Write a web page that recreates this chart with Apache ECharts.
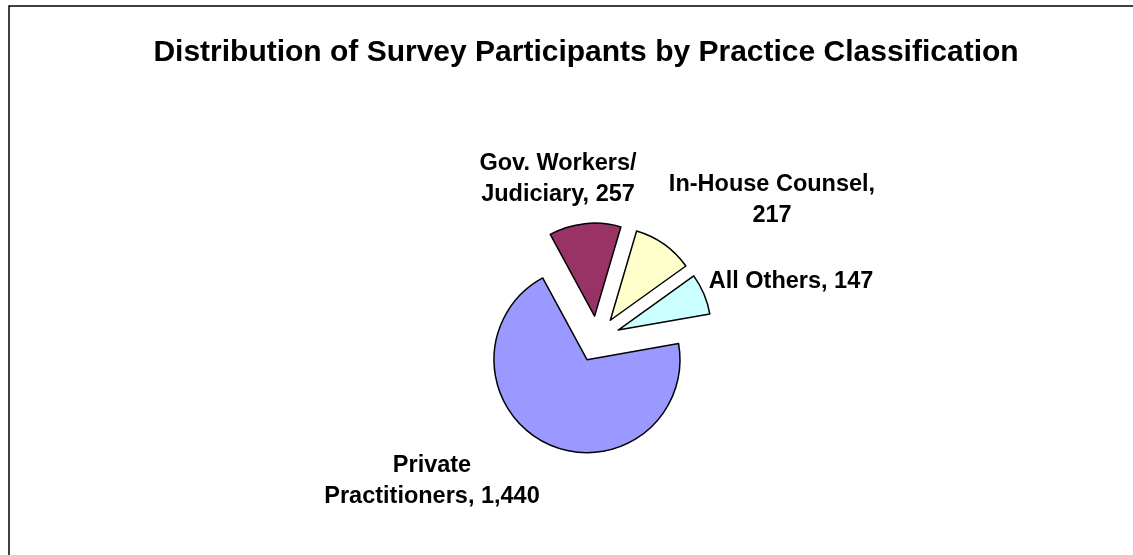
<!DOCTYPE html>
<html>
<head>
<meta charset="utf-8">
<script src="https://cdn.jsdelivr.net/npm/echarts@6/dist/echarts.min.js"></script>
<style>
  html, body { margin: 0; padding: 0; background: #fff; }
  #chart { width: 1133px; height: 555px; }
</style>
</head>
<body>
<div id="chart"></div>
<script>
// Survey participants grouped by practice classification
const categories = ['Private\nPractitioners', 'Gov. Workers/\nJudiciary', 'In-House Counsel', 'All Others'];
const participants = [1440, 257, 217, 147];
// text placed between a category name and its count
const separators = [', ', ', ', ',\n', ', '];
const sliceColors = ['#9999FF', '#993366', '#FFFFCC', '#CCFFFF'];
// label anchor points (centre of each text block)
const labelAnchors = [[432, 481], [558, 179], [772, 200], [791, 282]];

const FONT = '"Liberation Sans", Arial, sans-serif';

const chart = echarts.init(document.getElementById('chart'), null, { renderer: 'canvas' });

// every slice is pulled out from the centre
const data = categories.map((name, i) => ({
  name: name,
  value: participants[i],
  selected: true,
  itemStyle: { color: sliceColors[i] },
  select: { itemStyle: { color: sliceColors[i], borderColor: '#000', borderWidth: 1.5 } }
}));

// data labels: "name, count" placed beside each slice
const labelTexts = categories.map((name, i) => ({
  type: 'text',
  silent: true,
  x: labelAnchors[i][0],
  y: labelAnchors[i][1],
  style: {
    text: name + separators[i] + participants[i].toLocaleString('en-US'),
    fill: '#000',
    fontFamily: FONT,
    fontWeight: 'bold',
    fontSize: 23.5,
    lineHeight: 31,
    align: 'center',
    verticalAlign: 'middle'
  }
}));

chart.setOption({
  animation: false,
  backgroundColor: '#fff',
  title: {
    text: 'Distribution of Survey Participants by Practice Classification',
    left: 581,
    textAlign: 'center',
    top: 33,
    textStyle: { fontFamily: FONT, fontWeight: 'bold', fontSize: 30, color: '#000' }
  },
  graphic: [{
    type: 'rect',
    silent: true,
    shape: { x: 9, y: 6, width: 1200, height: 700 },
    style: { fill: 'none', stroke: '#000', lineWidth: 1.5 }
  }].concat(labelTexts),
  series: [{
    type: 'pie',
    center: [597, 339],
    radius: 93,
    startAngle: 10,
    clockwise: true,
    selectedMode: 'multiple',
    selectedOffset: 23,
    emphasis: { disabled: true },
    itemStyle: { borderColor: '#000', borderWidth: 1.5 },
    label: { show: false },
    labelLine: { show: false },
    data: data
  }]
});
</script>
</body>
</html>
